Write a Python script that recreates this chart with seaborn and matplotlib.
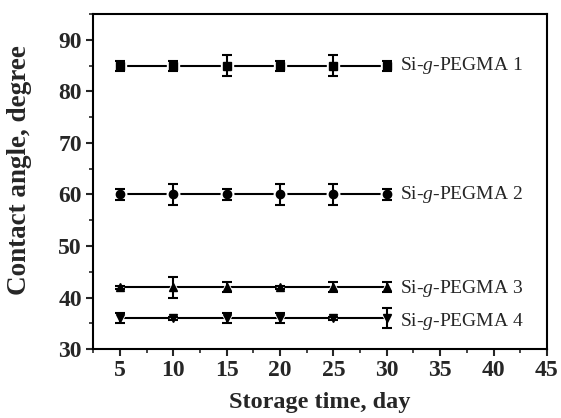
import numpy as np
import pandas as pd
import matplotlib
matplotlib.use('Agg')
import matplotlib.pyplot as plt
import seaborn as sns
from matplotlib.ticker import MultipleLocator

days = [5, 10, 15, 20, 25, 30]
names = ['Si-$g$-PEGMA 1', 'Si-$g$-PEGMA 2', 'Si-$g$-PEGMA 3', 'Si-$g$-PEGMA 4']
angle1 = [85, 85, 85, 85, 85, 85]
angle2 = [60, 60, 60, 60, 60, 60]
angle3 = [42, 42, 42, 42, 42, 42]
angle4 = [36, 36, 36, 36, 36, 36]
err1 = [1, 1, 2, 1, 2, 1]
err2 = [1, 2, 1, 2, 2, 1]
err3 = [0.3, 2, 1, 0.3, 1, 1]
err4 = [1, 0.3, 1, 1, 0.3, 2]
label_y = [85, 60, 41.7, 35.3]

sns.set_style('ticks')
plt.rcParams['font.family'] = ['Liberation Serif', 'DejaVu Serif']
plt.rcParams['mathtext.fontset'] = 'custom'
plt.rcParams['mathtext.rm'] = 'Liberation Serif'
plt.rcParams['mathtext.it'] = 'Liberation Serif:italic'

fig = plt.figure(figsize=(5.61, 4.18), dpi=100)
ax = fig.add_axes([0.166, 0.165, 0.809, 0.801])

series = [angle1, angle2, angle3, angle4]
errs = [err1, err2, err3, err4]
markers = ['s', 'o', '^', 'v']

for vals, e, m, name, ly in zip(series, errs, markers, names, label_y):
    df = pd.DataFrame({'day': days, 'angle': vals})
    sns.lineplot(data=df, x='day', y='angle', ax=ax, color='black', lw=1.5, zorder=1)
    # white halo gives the small gap between line and marker
    ax.plot(days, vals, ls='none', marker=m, ms=9, mfc='white', mec='white', zorder=2)
    ax.errorbar(days, vals, yerr=e, fmt='none', ecolor='black', elinewidth=1.5,
                capsize=3.5, capthick=1.5, zorder=3)
    ax.plot(days, vals, ls='none', marker=m, ms=6, color='black', zorder=4)
    ax.text(31.2, ly, name, fontsize=14, va='center', ha='left')

ax.set_xlim(2.5, 45)
ax.set_ylim(30, 95)
ax.xaxis.set_major_locator(MultipleLocator(5))
ax.xaxis.set_minor_locator(MultipleLocator(2.5))
ax.yaxis.set_major_locator(MultipleLocator(10))
ax.yaxis.set_minor_locator(MultipleLocator(5))
ax.set_yticks([30, 40, 50, 60, 70, 80, 90])

for s in ax.spines.values():
    s.set_linewidth(1.5)
    s.set_color('black')
ax.tick_params(which='major', direction='out', length=5, width=1.5, labelsize=17, pad=3)
ax.tick_params(which='minor', direction='out', length=3, width=1.2)
for lab in ax.get_xticklabels() + ax.get_yticklabels():
    lab.set_fontweight('bold')

ax.set_xlabel('Storage time, day', fontsize=17.5, fontweight='bold', labelpad=8)
ax.set_ylabel('Contact angle, degree', fontsize=19.5, fontweight='bold')
ax.yaxis.set_label_coords(-0.134, 0.535)

fig.savefig('out.png', dpi=100)
